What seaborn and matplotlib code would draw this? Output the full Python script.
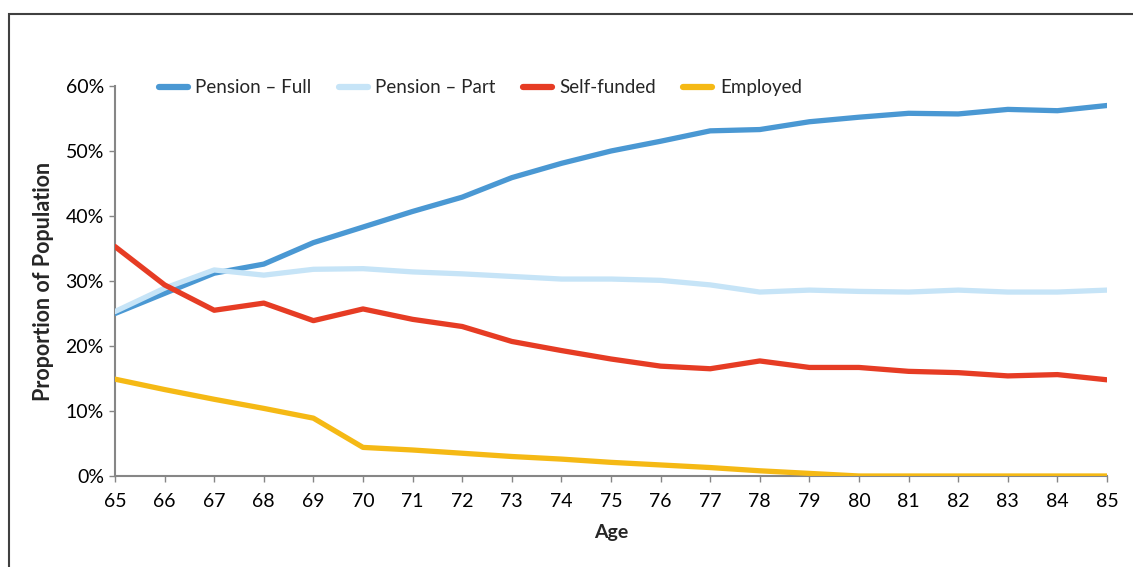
import matplotlib
matplotlib.use("Agg")
import matplotlib.pyplot as plt
import matplotlib.patches as mpatches
import seaborn as sns
import pandas as pd
from matplotlib.ticker import PercentFormatter

ages = list(range(65, 86))
pension_full = [25.0, 28.1, 31.2, 32.6, 35.9, 38.3, 40.7, 42.9, 45.9, 48.1, 50.0,
                51.5, 53.1, 53.3, 54.5, 55.2, 55.8, 55.7, 56.4, 56.2, 57.0]
pension_part = [25.3, 28.9, 31.7, 30.9, 31.8, 31.9, 31.4, 31.1, 30.7, 30.3, 30.3,
                30.1, 29.4, 28.3, 28.6, 28.4, 28.3, 28.6, 28.3, 28.3, 28.6]
self_funded = [35.3, 29.4, 25.5, 26.6, 23.9, 25.7, 24.1, 23.0, 20.7, 19.3, 18.0,
               16.9, 16.5, 17.7, 16.7, 16.7, 16.1, 15.9, 15.4, 15.6, 14.8]
employed = [14.9, 13.3, 11.8, 10.4, 8.9, 4.4, 4.0, 3.5, 3.0, 2.6, 2.1,
            1.7, 1.3, 0.8, 0.4, 0.0, 0.0, 0.0, 0.0, 0.0, 0.0]

series_names = ["Pension \u2013 Full", "Pension \u2013 Part", "Self-funded", "Employed"]
colors = ["#4A98D3", "#C6E4F7", "#E63C24", "#F5B915"]

df = pd.DataFrame({"Age": ages,
                   series_names[0]: pension_full,
                   series_names[1]: pension_part,
                   series_names[2]: self_funded,
                   series_names[3]: employed})
long = df.melt(id_vars="Age", var_name="Series", value_name="Value")

sns.set_theme(style="white")
plt.rcParams['font.family'] = ['Lato', 'DejaVu Sans']

fig = plt.figure(figsize=(11.33, 5.67), dpi=100)
ax = fig.add_axes([115/1133, 1 - 476/567, (1107 - 115)/1133, (476 - 86)/567])

sns.lineplot(data=long, x="Age", y="Value", hue="Series", hue_order=series_names,
             palette=colors, linewidth=3.8, ax=ax, solid_capstyle="round",
             legend=True)

ax.set_xlim(65, 85)
ax.set_ylim(0, 60)
ax.set_xticks(ages)
ax.set_xticklabels([str(a) for a in ages])
ax.set_yticks(range(0, 61, 10))
ax.yaxis.set_major_formatter(PercentFormatter(decimals=0))

for s in ["top", "right"]:
    ax.spines[s].set_visible(False)
for s in ["left", "bottom"]:
    ax.spines[s].set_color("#868686")
    ax.spines[s].set_linewidth(1.5)
ax.spines["left"].set_zorder(0)
ax.spines["bottom"].set_zorder(0)

ax.tick_params(axis="both", which="major", labelsize=14, colors="#868686",
               labelcolor="black", length=4, width=1, direction="out",
               bottom=True, left=True)
ax.tick_params(axis="x", pad=8)
ax.tick_params(axis="y", pad=4)

ax.set_xlabel("Age", fontsize=14, fontweight="bold", labelpad=10)
ax.set_ylabel("Proportion of Population", fontsize=15.5, fontweight="bold", labelpad=8)

leg = ax.legend(loc="upper left", bbox_to_anchor=(0.027, 1.06), ncol=4, frameon=False,
                fontsize=13.5, handlelength=1.55, columnspacing=1.45, handletextpad=0.4)
for line in leg.get_lines():
    line.set_linewidth(4.5)
    line.set_solid_capstyle("round")

frame = mpatches.Rectangle((9/1133, -0.1), 1.2, 1 - 14/567 + 0.1,
                           transform=fig.transFigure, fill=False,
                           edgecolor="#404040", linewidth=1.5, clip_on=False)
fig.patches.append(frame)

fig.savefig("out.png", dpi=100)
